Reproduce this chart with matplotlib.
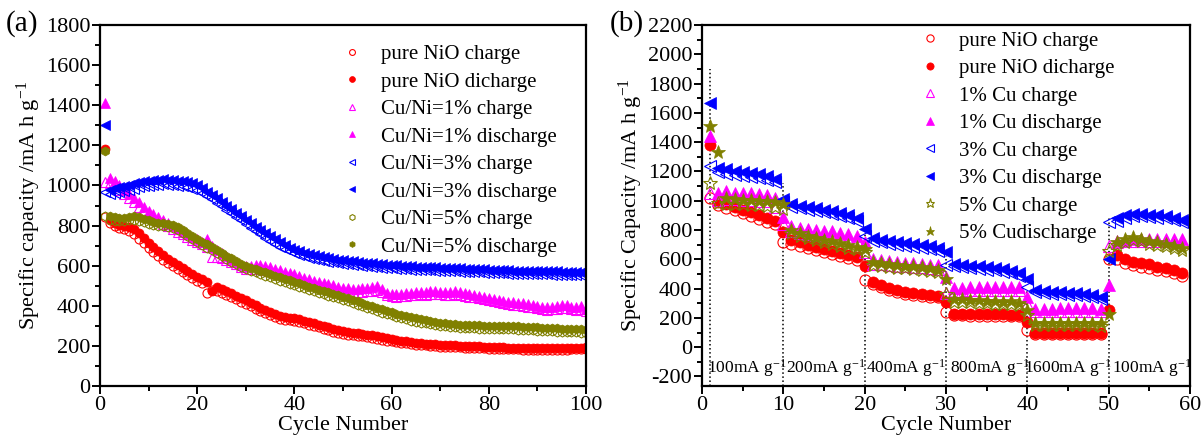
import numpy as np
import matplotlib
matplotlib.use('Agg')
import matplotlib.pyplot as plt
from matplotlib.ticker import MultipleLocator

plt.rcParams['font.family'] = ['Liberation Serif', 'DejaVu Serif']
plt.rcParams['mathtext.fontset'] = 'custom'
plt.rcParams['mathtext.rm'] = 'Liberation Serif'
plt.rcParams['mathtext.it'] = 'Liberation Serif:italic'
plt.rcParams['axes.unicode_minus'] = False

RED = '#ff0000'
MAGENTA = '#ff00ff'
BLUE = '#0000ff'
OLIVE = '#808000'

###########################
# Data (a): cycling, 100 cycles
###########################

cycles_a = np.arange(1, 101)

nio_chg_a = [845, 815, 800, 790, 782, 772, 758, 735, 712, 690,
             668, 648, 630, 614, 598, 583, 568, 553, 538, 525,
             512, 462, 478, 476, 466, 455, 443, 432, 421, 410,
             398, 386, 374, 362, 352, 343, 336, 331, 327, 323,
             318, 312, 306, 299, 292, 285, 278, 271, 265, 260,
             256, 253, 250, 247, 244, 240, 236, 231, 226, 222,
             218, 215, 212, 209, 206, 204, 202, 200, 198, 196,
             195, 194, 193, 192, 191, 190, 189, 188, 187, 186,
             185, 184, 183, 183, 182, 182, 181, 181, 180, 180,
             180, 180, 180, 180, 181, 181, 182, 182, 183, 184]
nio_dis_a = [1180, 830, 815, 805, 800, 795, 785, 765, 740, 715,
             695, 672, 652, 635, 620, 605, 590, 575, 560, 545,
             532, 518, 472, 495, 485, 474, 462, 450, 440, 428,
             415, 402, 390, 378, 367, 357, 350, 345, 341, 337,
             332, 326, 320, 313, 306, 299, 292, 285, 278, 272,
             268, 265, 262, 259, 256, 252, 248, 243, 238, 233,
             229, 225, 222, 219, 216, 213, 211, 209, 207, 205,
             204, 203, 202, 201, 200, 199, 198, 197, 196, 195,
             194, 193, 192, 191, 190, 190, 189, 189, 188, 188,
             188, 188, 188, 188, 189, 189, 190, 190, 191, 192]
cu1_chg_a = [1015, 1010, 995, 975, 955, 935, 915, 895, 875, 857,
             840, 825, 810, 796, 782, 769, 756, 743, 730, 718,
             706, 695, 645, 642, 638, 630, 620, 608, 595, 585,
             582, 585, 584, 580, 574, 567, 560, 553, 546, 539,
             532, 525, 518, 511, 505, 499, 493, 487, 481, 475,
             472, 470, 469, 470, 472, 474, 478, 470, 452, 447,
             445, 447, 449, 452, 455, 457, 456, 458, 460, 457,
             455, 456, 458, 455, 450, 446, 442, 437, 432, 427,
             422, 417, 412, 408, 405, 402, 399, 396, 392, 387,
             382, 380, 382, 386, 390, 388, 382, 379, 384, 373]
cu1_dis_a = [1410, 1035, 1020, 1000, 978, 955, 935, 915, 895, 875,
             858, 842, 826, 812, 798, 785, 772, 758, 745, 732,
             720, 735, 700, 680, 665, 650, 635, 620, 605, 598,
             600, 605, 602, 598, 592, 585, 578, 570, 563, 556,
             548, 540, 533, 526, 520, 514, 508, 502, 496, 490,
             488, 486, 485, 487, 490, 492, 500, 485, 465, 460,
             458, 460, 462, 465, 468, 470, 468, 472, 475, 470,
             468, 470, 475, 470, 465, 460, 455, 450, 445, 440,
             435, 430, 425, 420, 418, 415, 413, 410, 405, 400,
             395, 392, 395, 400, 405, 402, 395, 392, 398, 385]
cu3_chg_a = [965, 955, 960, 966, 972, 978, 984, 990, 995, 999,
             1002, 1004, 1005, 1004, 1002, 999, 995, 990, 984, 975,
             962, 947, 931, 914, 897, 879, 861, 843, 826, 808,
             790, 773, 756, 740, 724, 709, 695, 682, 671, 661,
             653, 646, 640, 634, 629, 624, 620, 616, 613, 610,
             607, 604, 601, 598, 596, 594, 592, 590, 588, 586,
             584, 582, 581, 580, 579, 578, 577, 576, 575, 574,
             573, 572, 571, 570, 569, 568, 567, 566, 565, 564,
             563, 562, 561, 560, 559, 559, 558, 558, 557, 557,
             556, 556, 555, 555, 554, 554, 554, 553, 553, 552]
cu3_dis_a = [1300, 978, 985, 992, 998, 1004, 1010, 1015, 1020, 1024,
             1027, 1029, 1030, 1029, 1027, 1024, 1020, 1015, 1010, 1000,
             985, 968, 952, 935, 918, 900, 882, 864, 847, 830,
             812, 795, 778, 762, 746, 731, 716, 702, 690, 680,
             671, 663, 657, 651, 646, 641, 637, 633, 630, 627,
             624, 621, 618, 615, 613, 611, 609, 607, 605, 603,
             601, 599, 597, 596, 595, 594, 593, 592, 591, 590,
             589, 588, 587, 586, 585, 584, 583, 582, 581, 580,
             579, 578, 577, 576, 575, 575, 574, 574, 573, 573,
             572, 572, 571, 571, 570, 570, 570, 569, 569, 568]
cu5_chg_a = [850, 830, 825, 822, 822, 826, 830, 825, 818, 810,
             802, 796, 797, 794, 786, 776, 762, 748, 734, 719,
             704, 690, 676, 662, 648, 634, 620, 606, 592, 582,
             574, 566, 558, 550, 542, 534, 526, 518, 511, 504,
             496, 488, 480, 472, 465, 458, 451, 444, 437, 430,
             422, 414, 406, 398, 390, 382, 374, 366, 359, 352,
             345, 338, 332, 326, 321, 316, 312, 308, 304, 300,
             297, 294, 292, 290, 289, 288, 287, 286, 285, 284,
             284, 284, 283, 283, 282, 281, 280, 279, 278, 276,
             274, 273, 272, 271, 270, 269, 268, 267, 266, 265]
cu5_dis_a = [1170, 850, 845, 840, 840, 845, 848, 842, 835, 826,
             818, 812, 813, 810, 802, 792, 778, 764, 750, 735,
             720, 706, 692, 678, 664, 650, 636, 622, 608, 598,
             590, 582, 574, 566, 558, 550, 542, 534, 527, 520,
             512, 504, 496, 488, 481, 474, 467, 460, 453, 446,
             438, 430, 422, 414, 406, 398, 390, 382, 375, 368,
             361, 354, 348, 342, 337, 332, 328, 324, 320, 316,
             313, 310, 308, 306, 305, 304, 303, 302, 301, 300,
             300, 300, 299, 299, 298, 297, 296, 295, 294, 292,
             290, 289, 288, 287, 286, 285, 284, 283, 282, 281]

labels_a = ['pure NiO charge', 'pure NiO dicharge',
            'Cu/Ni=1% charge', 'Cu/Ni=1% discharge',
            'Cu/Ni=3% charge', 'Cu/Ni=3% discharge',
            'Cu/Ni=5% charge', 'Cu/Ni=5% discharge']

###########################
# Data (b): rate capability, 59 cycles
###########################

cycles_b = np.arange(1, 60)

nio_chg_b = [1022, 970, 950, 935, 915, 895, 875, 855, 840, 717,
             705, 690, 677, 663, 648, 634, 620, 608, 595, 456,
             430, 410, 393, 378, 366, 357, 350, 345, 340, 240,
             218, 217, 216, 215, 214, 213, 212, 211, 210, 120,
             88, 88, 87, 87, 87, 87, 87, 87, 87, 600,
             600, 575, 560, 550, 540, 528, 518, 505, 488]
nio_dis_b = [1383, 990, 975, 960, 940, 920, 900, 880, 865, 785,
             730, 715, 700, 685, 670, 655, 640, 628, 615, 553,
             445, 425, 405, 390, 378, 368, 360, 355, 350, 310,
             230, 229, 228, 227, 226, 225, 224, 223, 220, 175,
             97, 96, 96, 95, 95, 95, 95, 95, 95, 253,
             630, 600, 585, 575, 565, 550, 540, 525, 505]
cu1_chg_b = [1055, 1005, 1012, 1010, 1005, 1002, 1000, 995, 955, 840,
             790, 780, 770, 765, 760, 752, 745, 735, 725, 650,
             570, 565, 560, 555, 552, 548, 545, 540, 535, 370,
             385, 387, 388, 389, 390, 390, 390, 390, 388, 298,
             248, 249, 250, 250, 250, 250, 250, 250, 250, 694,
             715, 722, 725, 727, 727, 727, 727, 727, 727]
cu1_dis_b = [1444, 1050, 1065, 1055, 1050, 1050, 1045, 1040, 1020, 886,
             830, 815, 805, 800, 795, 790, 780, 770, 760, 720,
             600, 592, 586, 580, 576, 572, 568, 564, 560, 479,
             405, 407, 408, 409, 410, 410, 410, 410, 408, 343,
             262, 263, 264, 265, 265, 265, 265, 265, 264, 423,
             725, 735, 740, 742, 742, 742, 742, 742, 742]
cu3_chg_b = [1236, 1195, 1185, 1175, 1170, 1162, 1152, 1140, 1125, 990,
             955, 948, 940, 930, 920, 910, 897, 882, 862, 760,
             725, 716, 708, 700, 694, 687, 680, 670, 655, 559,
             552, 546, 540, 535, 530, 524, 515, 505, 488, 411,
             375, 370, 366, 363, 359, 355, 350, 344, 332, 852,
             865, 885, 895, 895, 890, 885, 880, 870, 855]
cu3_dis_b = [1670, 1225, 1214, 1202, 1196, 1190, 1180, 1168, 1150, 1010,
             976, 966, 957, 948, 938, 928, 916, 903, 885, 807,
             745, 735, 726, 718, 712, 705, 698, 690, 675, 650,
             570, 563, 557, 551, 546, 540, 532, 522, 505, 468,
             390, 385, 380, 377, 373, 369, 364, 358, 345, 604,
             880, 900, 910, 910, 905, 900, 895, 885, 870]
cu5_chg_b = [1123, 985, 980, 978, 975, 972, 968, 965, 960, 942,
             780, 762, 745, 730, 718, 705, 693, 680, 668, 649,
             562, 555, 549, 544, 539, 534, 529, 523, 514, 360,
             310, 308, 306, 303, 300, 297, 294, 298, 286, 219,
             150, 150, 149, 149, 149, 149, 149, 149, 148, 660,
             700, 718, 730, 722, 705, 698, 688, 675, 665]
cu5_dis_b = [1512, 1330, 1017, 1010, 1008, 1005, 1000, 998, 990, 976,
             800, 780, 762, 748, 735, 722, 710, 697, 685, 670,
             580, 572, 566, 561, 556, 551, 546, 540, 530, 468,
             330, 328, 325, 322, 318, 315, 311, 318, 302, 253,
             165, 164, 164, 163, 163, 163, 163, 163, 162, 230,
             720, 740, 755, 740, 722, 715, 705, 690, 680]

labels_b = ['pure NiO charge', 'pure NiO dicharge',
            '1% Cu charge', '1% Cu discharge',
            '3% Cu charge', '3% Cu discharge',
            '5% Cu charge', '5% Cudischarge']

# rate steps: boundary cycle, top of the dotted line, label text, label x
step_x = [1, 10, 20, 30, 40, 50]
step_top = [1900, 1120, 830, 620, 400, 880]
rate_text = ['100mA g$^{-1}$', '200mA g$^{-1}$', '400mA g$^{-1}$',
             '800mA g$^{-1}$', '1600mA g$^{-1}$', '100mA g$^{-1}$']
rate_x = [5.5, 15.2, 25.0, 35.4, 45.0, 55.3]


###########################
# Plot helpers
###########################

def style_axes(ax):
    for s in ax.spines.values():
        s.set_linewidth(1.6)
    ax.tick_params(which='both', direction='out', top=False, right=False,
                   labelsize=16, width=1.4, pad=1)
    ax.tick_params(which='major', length=6)
    ax.tick_params(which='minor', length=3.5)
    ax.xaxis.set_label_coords(0.5, -0.082)

def draw_series(ax, x, series, styles):
    for y, (marker, color, filled, ms) in zip(series, styles):
        if filled:
            ax.plot(x, y, ls='none', marker=marker, ms=ms, color=color,
                    mec=color, mew=0.5)
        else:
            ax.plot(x, y, ls='none', marker=marker, ms=ms, mfc='none',
                    mec=color, mew=0.8)


fig = plt.figure(figsize=(12.02, 4.38), dpi=100)
ax_a = fig.add_axes([100 / 1202, 52 / 438, 486 / 1202, 361 / 438])
ax_b = fig.add_axes([702 / 1202, 52 / 438, 488 / 1202, 361 / 438])

styles_a = [('o', RED, False, 6.5), ('o', RED, True, 6.5),
            ('^', MAGENTA, False, 6.5), ('^', MAGENTA, True, 6.5),
            ('<', BLUE, False, 6.5), ('<', BLUE, True, 6.5),
            ('h', OLIVE, False, 6.5), ('h', OLIVE, True, 6.5)]
series_a = [nio_chg_a, nio_dis_a, cu1_chg_a, cu1_dis_a,
            cu3_chg_a, cu3_dis_a, cu5_chg_a, cu5_dis_a]
draw_series(ax_a, cycles_a, series_a, styles_a)

ax_a.set_xlim(0, 100)
ax_a.set_ylim(0, 1800)
ax_a.xaxis.set_major_locator(MultipleLocator(20))
ax_a.xaxis.set_minor_locator(MultipleLocator(10))
ax_a.yaxis.set_major_locator(MultipleLocator(200))
ax_a.yaxis.set_minor_locator(MultipleLocator(100))
ax_a.set_xlabel('Cycle Number', fontsize=16)
ax_a.set_ylabel('Specific capacity /mA h g$^{-1}$', fontsize=16, labelpad=2)
style_axes(ax_a)
ax_a.legend(labels_a, loc='upper left', bbox_to_anchor=(0.475, 0.975),
            frameon=False, fontsize=15, markerscale=0.65, handlelength=1.0,
            handletextpad=0.9, labelspacing=0.38, borderpad=0)
fig.text(6 / 1202, 1 - 24 / 438, '(a)', fontsize=21, va='center')

styles_b = [('o', RED, False, 8), ('o', RED, True, 8),
            ('^', MAGENTA, False, 8), ('^', MAGENTA, True, 8),
            ('<', BLUE, False, 8), ('<', BLUE, True, 8),
            ('*', OLIVE, False, 10), ('*', OLIVE, True, 10)]
series_b = [nio_chg_b, nio_dis_b, cu1_chg_b, cu1_dis_b,
            cu3_chg_b, cu3_dis_b, cu5_chg_b, cu5_dis_b]
draw_series(ax_b, cycles_b, series_b, styles_b)

for xs, top in zip(step_x, step_top):
    ax_b.plot([xs, xs], [-265, top], color='black', ls=':', lw=1.1, zorder=0)
for xt, txt in zip(rate_x, rate_text):
    ax_b.text(xt, -140, txt, fontsize=12.5, ha='center', va='center')

ax_b.set_xlim(0, 60)
ax_b.set_ylim(-265, 2200)
ax_b.set_yticks(np.arange(-200, 2201, 200))
ax_b.xaxis.set_major_locator(MultipleLocator(10))
ax_b.xaxis.set_minor_locator(MultipleLocator(5))
ax_b.yaxis.set_minor_locator(MultipleLocator(100))
ax_b.set_xlabel('Cycle Number', fontsize=16)
ax_b.set_ylabel('Specific Capacity /mA h g$^{-1}$', fontsize=16, labelpad=2)
style_axes(ax_b)
ax_b.legend(labels_b, loc='upper left', bbox_to_anchor=(0.425, 1.012),
            frameon=False, fontsize=15, markerscale=0.65, handlelength=1.0,
            handletextpad=0.9, labelspacing=0.38, borderpad=0)
fig.text(610 / 1202, 1 - 24 / 438, '(b)', fontsize=21, va='center')

fig.savefig('out.png', dpi=100)
